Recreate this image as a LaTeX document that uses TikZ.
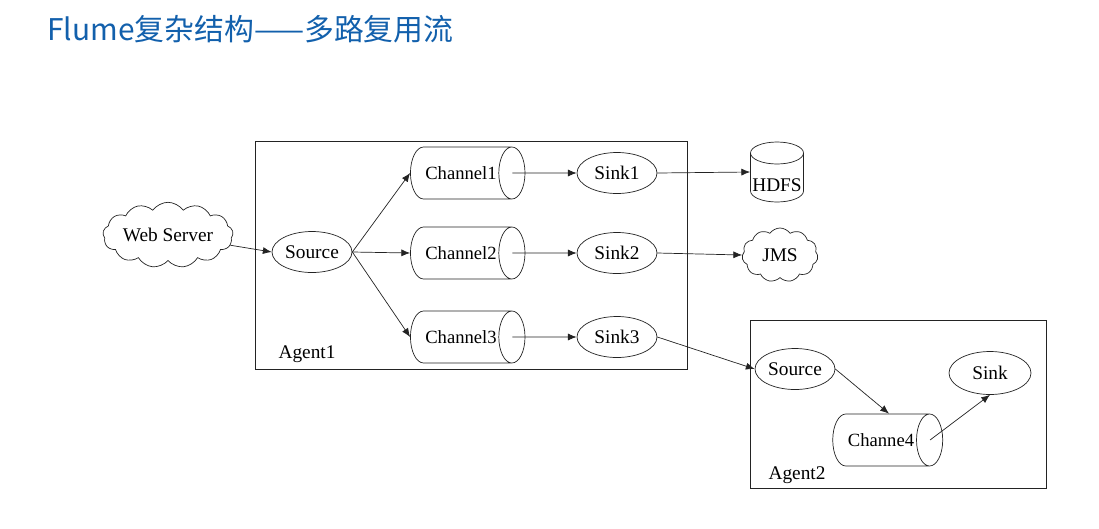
\documentclass[tikz,border=0pt]{standalone}
\usepackage{fontspec}
\setmainfont{Liberation Serif}
\newfontfamily\cjk{Noto Sans CJK SC}
\usetikzlibrary{shapes.geometric,shapes.symbols,arrows.meta}
\definecolor{titleblue}{RGB}{18,96,172}
\definecolor{linegray}{RGB}{35,35,35}

\tikzset{
  proc/.style={ellipse, draw=linegray, minimum width=1.6cm, minimum height=0.82cm, inner sep=0pt},
  chan/.style={cylinder, draw=linegray, shape aspect=2.0, minimum width=1.04cm, minimum height=2.2cm, inner xsep=1pt, inner ysep=0pt, font=\fontsize{10.6}{13}\selectfont},
  store/.style={minimum width=1.06cm, minimum height=1.2cm, inner sep=0pt},
  srv/.style={cloud, draw=linegray, cloud puffs=13, cloud puff arc=110, aspect=2.5, inner sep=0pt},
  agentbox/.style={draw=linegray},
  flow/.style={-{Latex[length=5pt,width=4pt]}, linegray}
}

\begin{document}
\begin{tikzpicture}[x=0.02cm, y=-0.02cm, font=\fontsize{11}{13}\selectfont]
  \useasboundingbox (0,0) rectangle (1099,528);

  % Titel
  \node[anchor=west, text=titleblue, font=\cjk\fontsize{17}{20}\selectfont, inner sep=0pt] (title) at (47,29) {Flume复杂结构——多路复用流};

  % Agent-Rahmen
  \draw[agentbox] (255,141) rectangle (687,369);
  \draw[agentbox] (750,320) rectangle (1046,488);
  \node (a1) at (307,354) {Agent1};
  \node (a2) at (797,475) {Agent2};

  % Quelle aussen
  \node[srv, minimum width=2.32cm, minimum height=0.92cm] (web) at (168,235) {Web Server};

  % Agent1
  \node[proc] (src1) at (312,252) {Source};
  \node[chan] (c1) at (461,173) {Channel1};
  \node[chan] (c2) at (461,253) {Channel2};
  \node[chan] (c3) at (461,337) {Channel3};
  \node[proc] (k1) at (617,173) {Sink1};
  \node[proc] (k2) at (617,253) {Sink2};
  \node[proc] (k3) at (617,337) {Sink3};

  % Ziele: HDFS als stehende Tonne
  \node[store] (hdfs) at (777,172) {};
  \draw[linegray] (777,153) ellipse (26.5 and 11);
  \draw[linegray] (750.5,153) -- (750.5,191) arc[start angle=180, end angle=0, x radius=26.5, y radius=11] -- (803.5,153);
  \node (hdfstxt) at (777,185) {HDFS};
  \node[srv, minimum width=1.52cm, minimum height=1.08cm, aspect=1.4, cloud puffs=11] (jms) at (780,255) {JMS};

  % Agent2
  \node[proc] (src2) at (795,369) {Source};
  \node[chan] (c4) at (881,440) {Channe4};
  \node[proc, minimum width=1.64cm, minimum height=0.86cm] (snk) at (990,373) {Sink};

  % Verbindungen
  \draw[flow] (web) -- (src1.west);
  \draw[flow] (src1.east) -- (c1.west);
  \draw[flow] (src1.east) -- (c2.west);
  \draw[flow] (src1.east) -- (c3.west);
  \draw[flow] ([xshift=-0.26cm]c1.east) -- (k1.west);
  \draw[flow] ([xshift=-0.26cm]c2.east) -- (k2.west);
  \draw[flow] ([xshift=-0.26cm]c3.east) -- (k3.west);
  \draw[flow] (k1.east) -- (hdfs.west);
  \draw[flow] (k2.east) -- (jms.west);
  \draw[flow] (k3.east) -- (src2.west);
  \draw[flow] (src2.east) -- ([xshift=0.16cm]c4.north);
  \draw[flow] ([xshift=-0.26cm]c4.east) -- (snk.south);
\end{tikzpicture}
\end{document}
